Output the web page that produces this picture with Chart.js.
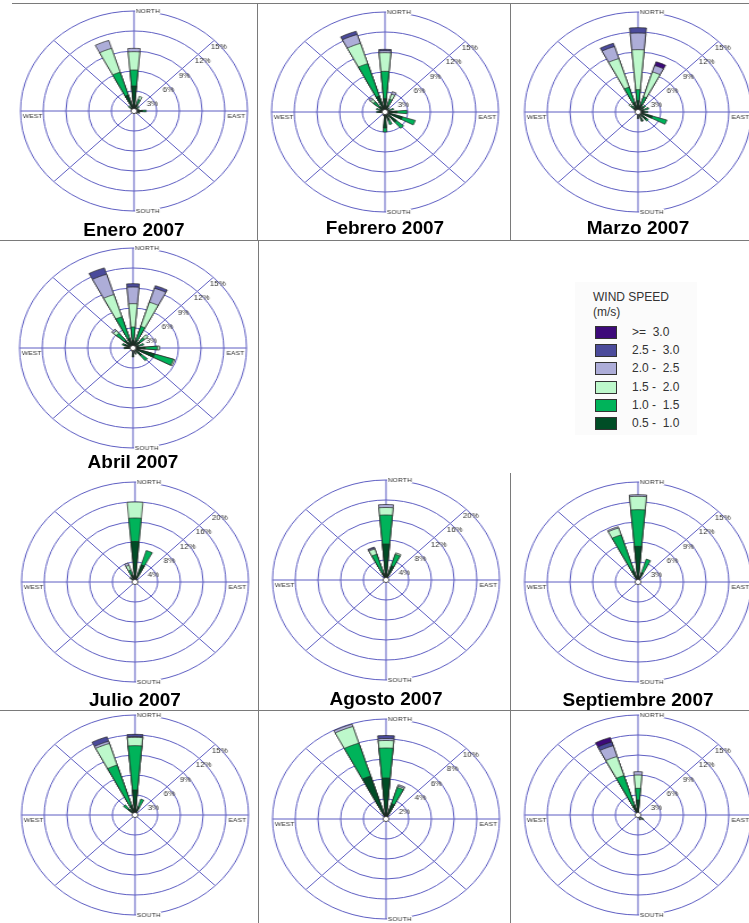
<!DOCTYPE html>
<html>
<head>
<meta charset="utf-8">
<script src="https://cdn.jsdelivr.net/npm/chart.js@4.4.1/dist/chart.umd.min.js"></script>
<style>
  html, body { margin: 0; padding: 0; background: #fff; }
  body { width: 749px; height: 923px; position: relative; overflow: hidden; font-family: "Liberation Sans", Arial, sans-serif; }
  .rose { position: absolute; width: 220px; height: 220px; transform: scaleX(1.135); transform-origin: 110px 110px; }
  .title { position: absolute; width: 240px; text-align: center; font-weight: bold; font-size: 19px; line-height: 20px; color: #000; }
  .hl { position: absolute; height: 1px; background: #7a7a7a; }
  .vl { position: absolute; width: 1px; background: #7a7a7a; }
  #legend { position: absolute; left: 575px; top: 282px; width: 122px; height: 153px; background: #fbfbfb; color: #333; font-size: 12px; }
  #legend .head { position: absolute; left: 18px; top: 8px; line-height: 15px; }
  #legend .row { position: absolute; left: 20px; height: 13px; }
  #legend .sw { position: absolute; left: 0; top: 0; width: 20px; height: 11px; border: 1px solid #333; }
  #legend .lb { position: absolute; left: 37px; top: -1px; white-space: pre; line-height: 14px; }
</style>
</head>
<body>
<!-- table rules -->
<div class="hl" style="left:12px;top:3px;width:737px"></div>
<div class="hl" style="left:0;top:240px;width:749px"></div>
<div class="hl" style="left:0;top:710px;width:749px"></div>
<div class="vl" style="left:257px;top:3px;height:237px"></div>
<div class="vl" style="left:510px;top:3px;height:237px"></div>
<div class="vl" style="left:258px;top:240px;height:683px"></div>
<div class="vl" style="left:510px;top:473px;height:450px"></div>

<div id="legend"></div>

<script>
  // --- Wind rose data: % frequency per direction (16 sectors, N clockwise), one row per speed class ---
  const DIRS = ['N','NNE','NE','ENE','E','ESE','SE','SSE','S','SSW','SW','WSW','W','WNW','NW','NNW'];
  const SPEED_CLASSES = ['0.5 -  1.0', '1.0 -  1.5', '1.5 -  2.0', '2.0 -  2.5', '2.5 -  3.0', '>=  3.0'];
  const SPEED_COLORS = ['#004d26', '#00b35a', '#bdf8cb', '#adadd8', '#4b4b9b', '#3d0a7a'];
  const CARDINALS = ['NORTH', 'EAST', 'SOUTH', 'WEST'];

  //            N     NNE  NE   ENE  E    ESE  SE   SSE  S    SSW  SW   WSW  W    WNW  NW   NNW
  const ENERO = [
    [3.75, 1.0, 0.6, 0.7, 1.1, 0.8, 0.5, 0.3, 0.4, 0.3, 0,   0,   0.3, 0.4, 0.6, 2.5],
    [2.4,  0.8, 0.3, 0,   0.5, 0,   0,   0,   0,   0,   0,   0,   0,   0,   0.4, 3.6],
    [2.75, 0.5, 0,   0,   0,   0,   0,   0,   0,   0,   0,   0,   0,   0,   0,   3.75],
    [0.5,  0,   0,   0,   0,   0,   0,   0,   0,   0,   0,   0,   0,   0,   0,   1.25],
    [0,    0,   0,   0,   0,   0,   0,   0,   0,   0,   0,   0,   0,   0,   0,   0],
    [0,    0,   0,   0,   0,   0,   0,   0,   0,   0,   0,   0,   0,   0,   0,   0],
  ];
  const FEBRERO = [
    [2.0,  1.0, 0.5, 0.6, 1.6, 2.4, 2.0, 1.3, 2.4, 0.6, 0.3, 0.3, 0.8, 0.7, 1.0, 2.5],
    [4.1,  1.0, 0.3, 0.6, 1.3, 1.8, 1.2, 0.7, 0.6, 0,   0,   0,   0.3, 0.5, 1.0, 5.1],
    [2.8,  0.8, 0,   0,   0,   0,   0,   0,   0,   0,   0,   0,   0,   0,   0.5, 3.2],
    [0.3,  0.4, 0,   0,   0,   0,   0,   0,   0,   0,   0,   0,   0,   0,   0.3, 1.4],
    [0.2,  0,   0,   0,   0,   0,   0,   0,   0,   0,   0,   0,   0,   0,   0,   0.5],
    [0,    0,   0,   0,   0,   0,   0,   0,   0,   0,   0,   0,   0,   0,   0,   0],
  ];
  const MARZO = [
    [1.7,  1.2, 1.0, 0.8, 0.8, 2.0, 1.5, 1.5, 1.0, 0.4, 0.2, 0,   0.3, 0.5, 0.8, 1.5],
    [1.65, 1.2, 0.3, 0.7, 0.5, 2.0, 0.3, 0,   0,   0,   0,   0,   0,   0,   0.4, 2.4],
    [6.0,  3.9, 0,   0,   0,   0,   0,   0,   0,   0,   0,   0,   0,   0,   0.4, 4.5],
    [2.5,  1.0, 0,   0,   0,   0,   0,   0,   0,   0,   0,   0,   0,   0,   0,   1.9],
    [0.8,  0,   0,   0,   0,   0,   0,   0,   0,   0,   0,   0,   0,   0,   0,   0.5],
    [0,    0.6, 0,   0,   0,   0,   0,   0,   0,   0,   0,   0,   0,   0,   0,   0],
  ];
  const ABRIL = [
    [1.15, 1.2, 1.2, 0.8, 1.6, 3.0, 1.5, 1.0, 1.35, 0.5, 0.3, 0.3, 1.0, 1.2, 1.5, 1.5],
    [2.0,  2.2, 0.8, 0.7, 1.6, 2.6, 1.0, 0,   0,    0,   0,   0,   0.2, 0.3, 1.4, 3.4],
    [3.5,  3.8, 0.6, 0,   0.3, 0.2, 0,   0,   0,    0,   0,   0,   0,   0,   0.5, 3.5],
    [2.5,  2.2, 0,   0,   0,   0,   0,   0,   0,    0,   0,   0,   0,   0,   0.3, 3.2],
    [0.5,  0.4, 0,   0,   0,   0,   0,   0,   0,    0,   0,   0,   0,   0,   0,   1.0],
    [0,    0,   0,   0,   0,   0,   0,   0,   0,    0,   0,   0,   0,   0,   0,   0],
  ];
  const JULIO = [
    [8.1,  3.6, 0.6, 0,   0,   0,   0,   0,   0,   0,   0,   0,   0,   0,   1.2, 1.5],
    [4.7,  3.0, 0,   0,   0,   0,   0,   0,   0,   0,   0,   0,   0,   0,   0,   1.0],
    [3.2,  0,   0,   0,   0,   0,   0,   0,   0,   0,   0,   0,   0,   0,   0,   1.0],
    [0,    0,   0,   0,   0,   0,   0,   0,   0,   0,   0,   0,   0,   0,   0,   0.5],
    [0,    0,   0,   0,   0,   0,   0,   0,   0,   0,   0,   0,   0,   0,   0,   0],
    [0,    0,   0,   0,   0,   0,   0,   0,   0,   0,   0,   0,   0,   0,   0,   0],
  ];
  const AGOSTO = [
    [7.2,  3.0, 0,   0,   0,   0,   0,   0,   0,   0,   0,   0,   0,   0,   0,   1.5],
    [5.8,  2.4, 0,   0,   0,   0,   0,   0,   0,   0,   0,   0,   0,   0,   0,   3.9],
    [1.5,  0.3, 0,   0,   0,   0,   0,   0,   0,   0,   0,   0,   0,   0,   0,   1.1],
    [0.6,  0,   0,   0,   0,   0,   0,   0,   0,   0,   0,   0,   0,   0,   0,   0.2],
    [0,    0,   0,   0,   0,   0,   0,   0,   0,   0,   0,   0,   0,   0,   0,   0.2],
    [0,    0,   0,   0,   0,   0,   0,   0,   0,   0,   0,   0,   0,   0,   0,   0],
  ];
  const SEPTIEMBRE = [
    [5.35, 1.5, 0,   0,   0,   0,   0,   0,   0,   0,   0,   0,   0,   0,   0,   1.8],
    [5.5,  2.1, 0,   0,   0,   0,   0,   0,   0,   0,   0,   0,   0,   0,   0,   5.6],
    [2.0,  0,   0,   0,   0,   0,   0,   0,   0,   0,   0,   0,   0,   0,   0,   1.1],
    [0.25, 0,   0,   0,   0,   0,   0,   0,   0,   0,   0,   0,   0,   0,   0,   0.2],
    [0,    0,   0,   0,   0,   0,   0,   0,   0,   0,   0,   0,   0,   0,   0,   0],
    [0,    0,   0,   0,   0,   0,   0,   0,   0,   0,   0,   0,   0,   0,   0,   0],
  ];
  const OCTUBRE = [
    [3.75, 1.3, 0,   0,   0,   0,   0,   0,   0,   0,   0,   0,   0,   0,   1.2, 1.5],
    [6.65, 1.2, 0,   0,   0,   0,   0,   0,   0,   0,   0,   0,   0,   0,   0.8, 6.35],
    [1.25, 0,   0,   0,   0,   0,   0,   0,   0,   0,   0,   0,   0,   0,   0,   3.4],
    [0.1,  0,   0,   0,   0,   0,   0,   0,   0,   0,   0,   0,   0,   0,   0,   0.35],
    [0.35, 0,   0,   0,   0,   0,   0,   0,   0,   0,   0,   0,   0,   0,   0,   0.7],
    [0,    0,   0,   0,   0,   0,   0,   0,   0,   0,   0,   0,   0,   0,   0,   0],
  ];
  const NOVIEMBRE = [
    [4.1,  1.6, 0,   0,   0,   0,   0,   0,   0,   0,   0,   0,   0,   0,   0,   4.5],
    [3.0,  1.7, 0,   0,   0,   0,   0,   0,   0,   0,   0,   0,   0,   0,   0,   3.45],
    [0.75, 0.15,0,   0,   0,   0,   0,   0,   0,   0,   0,   0,   0,   0,   0,   1.75],
    [0.2,  0.15,0,   0,   0,   0,   0,   0,   0,   0,   0,   0,   0,   0,   0,   0.25],
    [0.3,  0,   0,   0,   0,   0,   0,   0,   0,   0,   0,   0,   0,   0,   0,   0],
    [0,    0,   0,   0,   0,   0,   0,   0,   0,   0,   0,   0,   0,   0,   0,   0],
  ];
  const DICIEMBRE = [
    [2.25, 0,   0,   0,   0,   0,   1.0, 0.8, 0,   0,   0,   0,   0,   0,   0,   1.5],
    [1.75, 0,   0,   0,   0,   0,   0,   0,   0,   0,   0,   0,   0,   0,   0,   4.7],
    [2.0,  0,   0,   0,   0,   0,   0,   0,   0,   0,   0,   0,   0,   0,   0,   3.0],
    [0.5,  0,   0,   0,   0,   0,   0,   0,   0,   0,   0,   0,   0,   0,   0,   1.7],
    [0,    0,   0,   0,   0,   0,   0,   0,   0,   0,   0,   0,   0,   0,   0,   0.6],
    [0,    0,   0,   0,   0,   0,   0,   0,   0,   0,   0,   0,   0,   0,   0,   0.7],
  ];

  // ring step (%) per panel, five rings each
  const PANELS = [
    { data: ENERO,      step: 3, title: 'Enero 2007',      cx: 134, cy: 111, ty: 220 },
    { data: FEBRERO,    step: 3, title: 'Febrero 2007',    cx: 385, cy: 112, ty: 218 },
    { data: MARZO,      step: 3, title: 'Marzo 2007',      cx: 638, cy: 112, ty: 218 },
    { data: ABRIL,      step: 3, title: 'Abril 2007',      cx: 133, cy: 348, ty: 452 },
    { data: JULIO,      step: 4, title: 'Julio 2007',      cx: 135, cy: 582, ty: 690 },
    { data: AGOSTO,     step: 4, title: 'Agosto 2007',     cx: 386, cy: 580, ty: 689 },
    { data: SEPTIEMBRE, step: 3, title: 'Septiembre 2007', cx: 638, cy: 582, ty: 690 },
    { data: OCTUBRE,    step: 3, title: '',                cx: 135, cy: 815, ty: 0 },
    { data: NOVIEMBRE,  step: 2, title: '',                cx: 386, cy: 819, ty: 0 },
    { data: DICIEMBRE,  step: 3, title: '',                cx: 638, cy: 815, ty: 0 },
  ];

  const GRID = '#5d5dc2';
  const WEDGE = 10;            // degrees per petal
  const GAP = 22.5 - WEDGE;    // degrees between petals

  const roseDecor = {
    id: 'roseDecor',
    beforeDatasetsDraw(chart) {
      const s = chart.scales.r, ctx = chart.ctx;
      const R = s.drawingArea, cx = s.xCenter, cy = s.yCenter;
      ctx.save();
      ctx.strokeStyle = GRID; ctx.lineWidth = 1;
      for (let k = 0; k < 4; k++) {
        const a = k * Math.PI / 4;
        ctx.beginPath();
        ctx.moveTo(cx + R * Math.sin(a), cy - R * Math.cos(a));
        ctx.lineTo(cx - R * Math.sin(a), cy + R * Math.cos(a));
        ctx.stroke();
      }
      ctx.restore();
    },
    afterDatasetsDraw(chart) {
      const s = chart.scales.r, ctx = chart.ctx;
      const R = s.drawingArea, cx = s.xCenter, cy = s.yCenter;
      ctx.save();
      // calm circle
      ctx.beginPath(); ctx.arc(cx, cy, 2.6, 0, Math.PI * 2);
      ctx.fillStyle = '#fff'; ctx.fill();
      ctx.strokeStyle = '#333'; ctx.lineWidth = 0.8; ctx.stroke();
      // ring labels on the NE diagonal
      ctx.font = '7px "Liberation Sans", Arial, sans-serif';
      ctx.fillStyle = '#333'; ctx.textAlign = 'left'; ctx.textBaseline = 'middle';
      s.ticks.forEach(t => {
        if (t.value <= 0) return;
        const r = s.getDistanceFromCenterForValue(t.value) * Math.SQRT1_2;
        ctx.fillText(t.value + '%', cx + r - 3, cy - r + 7);
      });
      // cardinal labels
      ctx.font = '6px "Liberation Sans", Arial, sans-serif';
      const wN = ctx.measureText(CARDINALS[0]).width, wS = ctx.measureText(CARDINALS[2]).width;
      ctx.fillStyle = '#fff';
      ctx.fillRect(cx + 1, cy - R - 3, wN + 1, 6);
      ctx.fillRect(cx + 1, cy + R - 3, wS + 1, 6);
      ctx.fillStyle = '#333';
      ctx.textAlign = 'left';
      ctx.fillText(CARDINALS[0], cx + 1.5, cy - R);
      ctx.fillText(CARDINALS[2], cx + 1.5, cy + R);
      ctx.fillText(CARDINALS[3], cx - R + 2, cy + 5);
      ctx.textAlign = 'right';
      ctx.fillText(CARDINALS[1], cx + R - 2, cy + 5);
      ctx.restore();
    },
  };

  function cumulate(rows) {
    let run = new Array(DIRS.length).fill(0);
    return rows.map(r => (run = run.map((v, i) => v + r[i])));
  }
  // petals at even slots, empty gap slots between them
  function spread(vals) {
    const out = [];
    vals.forEach(v => { out.push(v); out.push(0); });
    return out;
  }
  const SLOT_LABELS = spread(DIRS).map(v => v || '');

  PANELS.forEach(p => {
    const cv = document.createElement('canvas');
    cv.width = 220; cv.height = 220;
    cv.className = 'rose';
    cv.style.left = (p.cx - 110) + 'px';
    cv.style.top = (p.cy - 110) + 'px';
    document.body.appendChild(cv);

    const cum = cumulate(p.data);
    new Chart(cv, {
      type: 'polarArea',
      data: {
        labels: SLOT_LABELS,
        datasets: cum.map((vals, k) => ({
          label: SPEED_CLASSES[k],
          data: spread(vals.map((v, i) => p.data[k][i] > 0 ? v : 0)),
          backgroundColor: SPEED_COLORS[k],
          borderColor: '#222',
          borderWidth: ctx => (ctx.raw > 0 ? 0.7 : 0),
          angle: ctx => (ctx.dataIndex % 2 ? GAP : WEDGE),
        })),
      },
      options: {
        responsive: false,
        animation: false,
        layout: { padding: 10 },
        plugins: { legend: { display: false }, tooltip: { enabled: false } },
        scales: {
          r: {
            min: 0, max: p.step * 5,
            startAngle: -WEDGE / 2,
            ticks: { display: false, stepSize: p.step },
            grid: { circular: true, color: GRID, lineWidth: 1 },
            angleLines: { display: false },
            pointLabels: { display: false },
          },
        },
      },
      plugins: [roseDecor],
    });

    if (p.title) {
      const t = document.createElement('div');
      t.className = 'title';
      t.textContent = p.title;
      t.style.left = (p.cx - 120) + 'px';
      t.style.top = p.ty + 'px';
      document.body.appendChild(t);
    }
  });

  // --- legend ---
  const lg = document.getElementById('legend');
  lg.innerHTML = '<div class="head">WIND SPEED<br>(m/s)</div>';
  for (let k = SPEED_CLASSES.length - 1, row = 0; k >= 0; k--, row++) {
    const d = document.createElement('div');
    d.className = 'row';
    d.style.top = (44 + row * 18.2) + 'px';
    d.innerHTML = '<div class="sw" style="background:' + SPEED_COLORS[k] + '"></div><div class="lb">' + SPEED_CLASSES[k] + '</div>';
    lg.appendChild(d);
  }
</script>
</body>
</html>
